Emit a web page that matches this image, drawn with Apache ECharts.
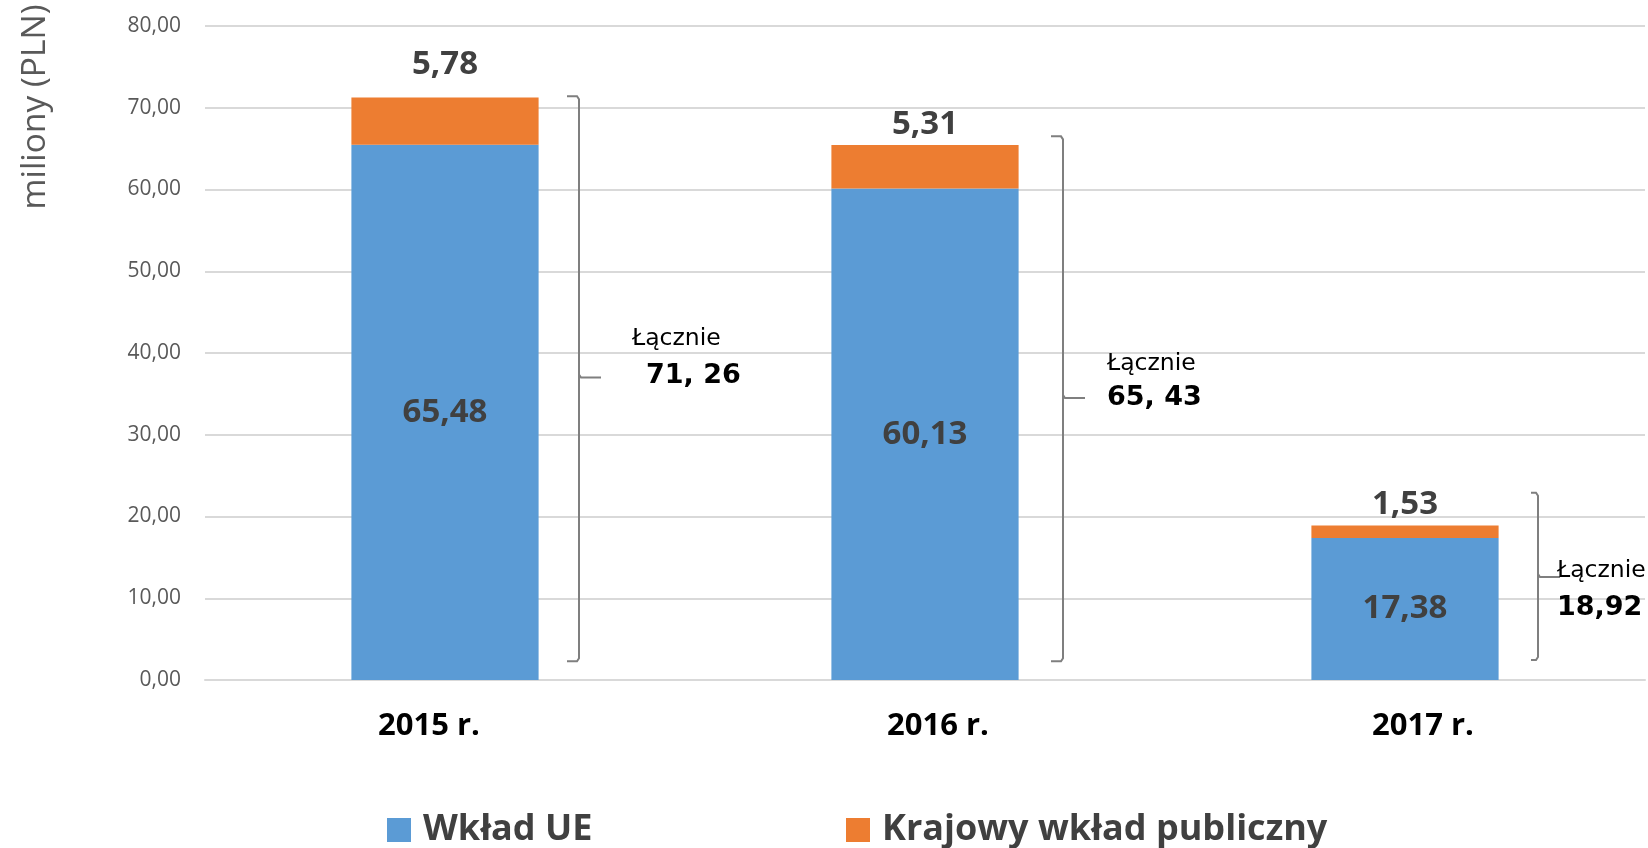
<!DOCTYPE html>
<html>
<head>
<meta charset="utf-8">
<script src="https://cdn.jsdelivr.net/npm/echarts@6/dist/echarts.min.js"></script>
<style>
  html, body { margin: 0; padding: 0; background: #fff; }
  #chart { width: 1648px; height: 848px; }
</style>
</head>
<body>
<div id="chart"></div>
<script>
// dane
const categories = ['2015 r.', '2016 r.', '2017 r.']
const wkladUE = [65.48, 60.13, 17.38]
const krajowy = [5.78, 5.31, 1.53]
const totalLabels = ['71, 26', '65, 43', '18,92']
// klamry "Łącznie" (wartości na osi Y)
const bracketLow = [2.3, 2.3, 2.45]
const bracketHigh = [71.4, 66.5, 22.9]
const bracketMid = [37.0, 34.5, 12.6]

// przesunięcia etykiet (px)
const catLabelShift = [-16, 13, 18]
const topLabelOffsets = [[0, -12], [0, 0], [0, 0]]
const callout = [
  { bx: 134, hook: 12, lx: 53, ly: -39, tx: 67, ty: -2 },
  { bx: 138, hook: 12, lx: 44, ly: -34, tx: 44, ty: 0 },
  { bx: 133, hook: 7, lx: 19, ly: -6, tx: 19, ty: 31 }
]

const fmt = v => Number(v).toFixed(2).replace('.', ',')
const GRID = '#d9d9d9'
const TXT = '#404040'

let myChart = echarts.init(document.getElementById('chart'))

const legendText = {
  fontFamily: 'Open Sans',
  fontWeight: 'bold',
  fontSize: 36,
  lineHeight: 36,
  color: TXT,
  padding: [0, 0, 0, 7]
}

let option = {
  animation: false,
  grid: { left: 205, right: 3, top: 26, bottom: 168, containLabel: false },
  legend: [
    {
      left: 382,
      top: 807,
      data: ['Wkład UE'],
      icon: 'rect',
      itemWidth: 24,
      itemHeight: 24,
      selectedMode: false,
      textStyle: legendText
    },
    {
      left: 841,
      top: 807,
      data: ['Krajowy wkład publiczny'],
      icon: 'rect',
      itemWidth: 24,
      itemHeight: 24,
      selectedMode: false,
      textStyle: legendText
    }
  ],
  graphic: [
    {
      type: 'text',
      x: 35,
      y: 107,
      rotation: Math.PI / 2,
      style: {
        text: 'miliony (PLN)',
        fontFamily: 'Open Sans',
        fontSize: 33.5,
        fill: '#595959',
        textAlign: 'center',
        textVerticalAlign: 'middle',
        align: 'center',
        verticalAlign: 'middle'
      }
    }
  ],
  xAxis: {
    type: 'category',
    data: categories.map((c, i) => {
      const s = catLabelShift[i]
      return {
        value: c,
        textStyle: { padding: s < 0 ? [0, -2 * s, 0, 0] : [0, 0, 0, 2 * s] }
      }
    }),
    axisTick: { show: false },
    axisLine: { lineStyle: { color: GRID, width: 2 } },
    axisLabel: {
      margin: 31,
      fontFamily: 'Open Sans',
      fontWeight: 'bold',
      fontSize: 31,
      lineHeight: 31,
      color: '#000'
    }
  },
  yAxis: {
    type: 'value',
    min: 0,
    max: 80,
    interval: 10,
    axisLine: { show: false },
    axisTick: { show: false },
    splitLine: { lineStyle: { color: GRID, width: 2 } },
    axisLabel: {
      margin: 24,
      fontFamily: 'Open Sans',
      fontSize: 21,
      color: '#595959',
      formatter: v => fmt(v)
    }
  },
  series: [
    {
      name: 'Wkład UE',
      type: 'bar',
      stack: 'total',
      barWidth: '39%',
      data: wkladUE,
      itemStyle: { color: '#5B9BD5' },
      label: {
        show: true,
        position: 'inside',
        fontFamily: 'Open Sans',
        fontWeight: 'bold',
        fontSize: 33,
        color: TXT,
        formatter: p => fmt(p.value)
      }
    },
    {
      name: 'Krajowy wkład publiczny',
      type: 'bar',
      stack: 'total',
      barWidth: '39%',
      data: krajowy.map((v, i) => ({ value: v, label: { offset: topLabelOffsets[i] } })),
      itemStyle: { color: '#ED7D31' },
      label: {
        show: true,
        position: 'top',
        distance: 4,
        fontFamily: 'Open Sans',
        fontWeight: 'bold',
        fontSize: 33,
        lineHeight: 33,
        color: TXT,
        formatter: p => fmt(p.value)
      }
    },
    {
      name: 'Łącznie',
      type: 'custom',
      silent: true,
      encode: { x: 0, y: [1, 2, 3] },
      data: categories.map((c, i) => [i, bracketLow[i], bracketHigh[i], bracketMid[i]]),
      renderItem: (params, api) => {
        const i = params.dataIndex
        const c = callout[i]
        const cx = api.coord([api.value(0), 0])[0]
        const x = cx + c.bx
        const yLow = api.coord([api.value(0), api.value(1)])[1]
        const yHigh = api.coord([api.value(0), api.value(2)])[1]
        const yMid = api.coord([api.value(0), api.value(3)])[1]
        const line = { stroke: '#7f7f7f', lineWidth: 2, fill: null }
        return {
          type: 'group',
          children: [
            {
              type: 'polyline',
              shape: {
                points: [
                  [x - c.hook, yHigh], [x - 2, yHigh], [x, yHigh + 3],
                  [x, yLow - 3], [x - 2, yLow], [x - c.hook, yLow]
                ]
              },
              style: line
            },
            {
              type: 'polyline',
              shape: { points: [[x, yMid - 3], [x + 2, yMid], [x + 22, yMid]] },
              style: line
            },
            {
              type: 'text',
              x: x + c.lx,
              y: yMid + c.ly,
              style: {
                text: 'Łącznie',
                fontFamily: 'DejaVu Sans',
                fontSize: 23.5,
                fill: '#000',
                textAlign: 'left',
                textVerticalAlign: 'middle',
                align: 'left',
                verticalAlign: 'middle'
              }
            },
            {
              type: 'text',
              x: x + c.tx,
              y: yMid + c.ty,
              style: {
                text: totalLabels[i],
                fontFamily: 'DejaVu Sans',
                fontWeight: 'bold',
                fontSize: 27,
                fill: '#000',
                textAlign: 'left',
                textVerticalAlign: 'middle',
                align: 'left',
                verticalAlign: 'middle'
              }
            }
          ]
        }
      }
    }
  ]
}

myChart.setOption(option)
</script>
</body>
</html>
